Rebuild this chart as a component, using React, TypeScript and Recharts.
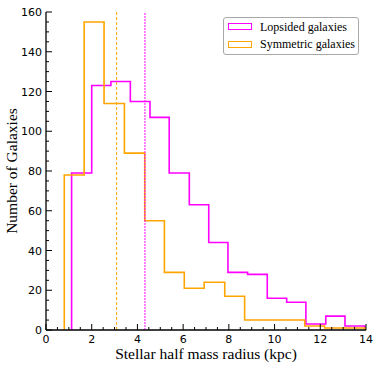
import React from 'react';
import { ComposedChart, Line, XAxis, YAxis, ReferenceLine, Legend, Label } from 'recharts';

// Histogram bin edges (kpc) and counts
const lopsidedEdges = [1.12, 2.0, 2.84, 3.69, 4.55, 5.39, 6.27, 7.12, 7.96, 8.82, 9.68, 10.53, 11.37, 12.24, 13.08, 13.95];
const lopsidedCounts = [79, 123, 125, 115, 107, 79, 63, 44, 29, 28, 16, 14, 3, 7, 2];
const symmetricEdges = [0.8, 1.67, 2.54, 3.43, 4.32, 5.18, 6.05, 6.92, 7.82, 8.69, 9.57, 10.44, 11.32, 12.19, 13.07, 13.95];
const symmetricCounts = [78, 155, 114, 89, 55, 29, 21, 24, 17, 5, 5, 5, 2, 1, 1];
const lopsidedMedian = 4.33;
const symmetricMedian = 3.09;

const xMajorTicks = [0, 2, 4, 6, 8, 10, 12, 14];
const yMajorTicks = [0, 20, 40, 60, 80, 100, 120, 140, 160];
const xAllTicks: number[] = [];
for (let i = 0; i <= 28; i++) xAllTicks.push(i * 0.5);
const yAllTicks: number[] = [];
for (let i = 0; i <= 32; i++) yAllTicks.push(i * 5);

const LOP_COLOR = '#ff00ff';
const SYM_COLOR = '#ffa500';

const toSteps = (edges: number[], counts: number[]) => {
  const pts: { x: number; y: number }[] = [{ x: edges[0], y: 0 }];
  counts.forEach((c, i) => pts.push({ x: edges[i], y: c }));
  pts.push({ x: edges[edges.length - 1], y: counts[counts.length - 1] });
  pts.push({ x: edges[edges.length - 1], y: 0 });
  return pts;
};
const lopsidedData = toSteps(lopsidedEdges, lopsidedCounts);
const symmetricData = toSteps(symmetricEdges, symmetricCounts);

const isMajX = (v: number) => xMajorTicks.includes(v);
const isMajY = (v: number) => yMajorTicks.includes(v);

const BottomTick = (p: any) => {
  const { x, y, payload } = p;
  const maj = isMajX(payload.value);
  return (
    <g>
      <line x1={x} x2={x} y1={y} y2={y - (maj ? 6 : 3)} stroke="#000" strokeWidth={1} />
      {maj && (
        <text x={x} y={y + 13} textAnchor="middle" fontFamily="DejaVu Sans" fontSize={11} fill="#000">
          {payload.value}
        </text>
      )}
    </g>
  );
};
const TopTick = (p: any) => {
  const { x, y, payload } = p;
  const maj = isMajX(payload.value);
  return <line x1={x} x2={x} y1={y} y2={y + (maj ? 6 : 3)} stroke="#000" strokeWidth={1} />;
};
const LeftTick = (p: any) => {
  const { x, y, payload } = p;
  const maj = isMajY(payload.value);
  return (
    <g>
      <line x1={x} x2={x + (maj ? 6 : 3)} y1={y} y2={y} stroke="#000" strokeWidth={1} />
      {maj && (
        <text x={x - 4} y={y + 4} textAnchor="end" fontFamily="DejaVu Sans" fontSize={11} fill="#000">
          {payload.value}
        </text>
      )}
    </g>
  );
};
const RightTick = (p: any) => {
  const { x, y, payload } = p;
  const maj = isMajY(payload.value);
  return <line x1={x} x2={x - (maj ? 6 : 3)} y1={y} y2={y} stroke="#000" strokeWidth={1} />;
};

const legendItems = [
  { label: 'Lopsided galaxies', color: LOP_COLOR },
  { label: 'Symmetric galaxies', color: SYM_COLOR },
];

const LegendBox = () => (
  <div
    style={{
      width: 136,
      height: 38,
      border: '1px solid #a8a8a8',
      borderRadius: 3,
      boxSizing: 'border-box',
      background: '#fff',
      fontFamily: '"Liberation Serif", serif',
      fontSize: 12,
      paddingLeft: 4,
      color: '#000',
    }}
  >
    {legendItems.map((it) => (
      <div key={it.label} style={{ display: 'flex', alignItems: 'center', height: 17.5 }}>
        <div style={{ width: 24, height: 7, border: `1.5px solid ${it.color}`, boxSizing: 'border-box' }} />
        <span style={{ marginLeft: 8, lineHeight: '14px' }}>{it.label}</span>
      </div>
    ))}
  </div>
);

const axisLine = { stroke: '#000', strokeWidth: 1.3 };

export default function App() {
  return (
    <ComposedChart
      width={374}
      height={365}
      margin={{ top: 12, right: 8, left: 0, bottom: 0 }}
      style={{ position: 'absolute', left: 0, top: 0 }}
    >
      <XAxis
        xAxisId="b"
        type="number"
        dataKey="x"
        domain={[0, 14]}
        allowDataOverflow
        ticks={xAllTicks}
        interval={0}
        tickSize={0}
        tickMargin={0}
        tickLine={false}
        axisLine={axisLine}
        tick={<BottomTick />}
        height={35}
      >
        <Label
          value="Stellar half mass radius (kpc)"
          position="insideBottom"
          offset={6}
          style={{ fontFamily: '"Liberation Serif", serif', fontSize: 15.5, fill: '#000' }}
        />
      </XAxis>
      <XAxis
        xAxisId="t"
        orientation="top"
        type="number"
        dataKey="x"
        domain={[0, 14]}
        allowDataOverflow
        ticks={xAllTicks}
        interval={0}
        tickSize={0}
        tickMargin={0}
        tickLine={false}
        axisLine={axisLine}
        tick={<TopTick />}
        height={0}
      />
      <YAxis
        yAxisId="l"
        type="number"
        domain={[0, 160]}
        allowDataOverflow
        ticks={yAllTicks}
        interval={0}
        tickSize={0}
        tickMargin={0}
        tickLine={false}
        axisLine={axisLine}
        tick={<LeftTick />}
        width={46}
      >
        <Label
          value="Number of Galaxies"
          angle={-90}
          position="insideLeft"
          offset={11}
          style={{ textAnchor: 'middle', fontFamily: '"Liberation Serif", serif', fontSize: 15.5, fill: '#000' }}
        />
      </YAxis>
      <YAxis
        yAxisId="r"
        orientation="right"
        type="number"
        domain={[0, 160]}
        allowDataOverflow
        ticks={yAllTicks}
        interval={0}
        tickSize={0}
        tickMargin={0}
        tickLine={false}
        axisLine={axisLine}
        tick={<RightTick />}
        width={0}
      />
      <Line
        xAxisId="b"
        yAxisId="l"
        data={lopsidedData}
        dataKey="y"
        type="stepAfter"
        stroke={LOP_COLOR}
        strokeWidth={1.6}
        dot={false}
        activeDot={false}
        isAnimationActive={false}
      />
      <Line
        xAxisId="b"
        yAxisId="l"
        data={symmetricData}
        dataKey="y"
        type="stepAfter"
        stroke={SYM_COLOR}
        strokeWidth={1.6}
        dot={false}
        activeDot={false}
        isAnimationActive={false}
      />
      <ReferenceLine xAxisId="b" yAxisId="l" x={symmetricMedian} stroke={SYM_COLOR} strokeWidth={1} strokeDasharray="3 2" />
      <ReferenceLine xAxisId="b" yAxisId="l" x={lopsidedMedian} stroke={LOP_COLOR} strokeWidth={1} strokeDasharray="2 1" />
      <Legend
        layout="vertical"
        align="center"
        verticalAlign="middle"
        content={<LegendBox />}
        wrapperStyle={{ left: 223, top: 17, width: 136, height: 38 }}
      />
    </ComposedChart>
  );
}
